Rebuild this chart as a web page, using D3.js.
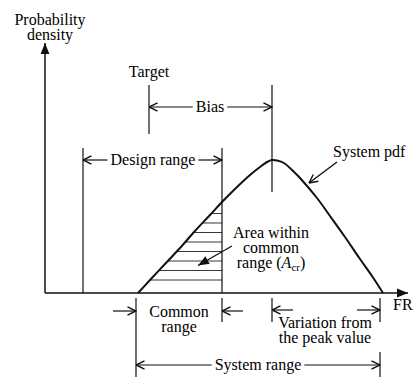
<!DOCTYPE html>
<html>
<head>
<meta charset="utf-8">
<script src="https://cdn.jsdelivr.net/npm/d3@7"></script>
<style>
  body { margin: 0; background: #fff; }
  text { font-family: "Liberation Serif", "Times New Roman", serif; font-size: 16px; fill: #000; }
</style>
</head>
<body>
<div class="canva"></div>
<script>
// system pdf (FR units, density units)
const pdfFR      = [93, 105, 120, 135, 150, 165, 177, 191, 205, 215, 222, 227, 232, 239, 247, 255, 272, 285, 300, 315, 327, 338];
const pdfDensity = [0, 13, 29, 45, 62, 78, 91, 105, 118, 126, 131, 133, 132.5, 130, 123, 115, 95, 77, 56, 34, 17, 0];

// hatch levels inside the common range
const hatchDensity = [13, 22.5, 32, 41.5, 51, 60.5, 70, 79.5];

// reference points along FR
const target = 104;
const peakFR = 227;
const designRange = [38, 177];
const systemRange = [91, 335];

const W = 413, H = 378;

const svg = d3.select('.canva').append('svg')
      .attr('width', W)
      .attr('height', H)

const x = d3.scaleLinear().domain([0, 363]).range([45, 408]);
const y = d3.scaleLinear().domain([0, 250]).range([293, 43]);

//arrow markers
const defs = svg.append('defs');
defs.append('marker')
    .attr('id', 'open')
    .attr('viewBox', '0 0 10 10')
    .attr('refX', 9.5).attr('refY', 5)
    .attr('markerWidth', 10).attr('markerHeight', 10)
    .attr('markerUnits', 'userSpaceOnUse')
    .attr('orient', 'auto-start-reverse')
  .append('path')
    .attr('d', 'M1,0.8 L9.5,5 L1,9.2')
    .attr('fill', 'none').attr('stroke', '#111').attr('stroke-width', 1.4);
defs.append('marker')
    .attr('id', 'solid')
    .attr('viewBox', '0 0 10 10')
    .attr('refX', 10).attr('refY', 5)
    .attr('markerWidth', 11).attr('markerHeight', 11)
    .attr('markerUnits', 'userSpaceOnUse')
    .attr('orient', 'auto')
  .append('path')
    .attr('d', 'M0,1 L10,5 L0,9 Z')
    .attr('fill', '#111');

const line = (x1, y1, x2, y2, w = 1.2) => svg.append('line')
    .attr('x1', x1).attr('y1', y1).attr('x2', x2).attr('y2', y2)
    .attr('stroke', '#111').attr('stroke-width', w);

const label = (px, py, txt, anchor = 'middle') => svg.append('text')
    .attr('x', px).attr('y', py).attr('text-anchor', anchor).text(txt);

//axes
line(x(0), y(0), x(0), y(250), 1.5).attr('marker-end', 'url(#solid)');
line(x(0), y(0), x(363), y(0), 1.5).attr('marker-end', 'url(#solid)');
label(50, 24.5, 'Probability');
label(50, 39.5, 'density');
label(393, 310, 'FR', 'start');

//hatching in the common range
const leftN = pdfDensity.indexOf(d3.max(pdfDensity)) + 1;
const leftBranch = d3.scaleLinear()
    .domain(pdfDensity.slice(0, leftN))
    .range(pdfFR.slice(0, leftN));
svg.append('g').selectAll('line')
    .data(hatchDensity)
    .enter().append('line')
    .attr('x1', d => x(leftBranch(d)))
    .attr('x2', x(designRange[1]))
    .attr('y1', d => y(d))
    .attr('y2', d => y(d))
    .attr('stroke', '#222')
    .attr('stroke-width', 0.9);

//pdf curve
const pts = pdfFR.map((f, i) => [x(f), y(pdfDensity[i])]);
svg.append('path')
    .attr('d', d3.line().curve(d3.curveCatmullRom)(pts))
    .attr('fill', 'none')
    .attr('stroke', '#111')
    .attr('stroke-width', 2);

//vertical reference lines
line(x(target), 85, x(target), 134);
line(x(peakFR), 85, x(peakFR), 192);
line(x(designRange[0]), 148, x(designRange[0]), y(0));
line(x(designRange[1]), 148, x(designRange[1]), y(0));

//dimension line with the label sitting in a gap
function dim(x1, x2, yy, txt, tx, ty) {
  const t = label(tx, ty, txt);
  const bb = t.node().getBBox();
  line(bb.x - 3, yy, x1, yy).attr('marker-end', 'url(#open)');
  line(bb.x + bb.width + 3, yy, x2, yy).attr('marker-end', 'url(#open)');
}

label(x(target), 77, 'Target');
dim(x(target), x(peakFR), 107, 'Bias', 210, 112);
dim(x(designRange[0]), x(designRange[1]), 160, 'Design range', 153, 164.5);

//system pdf pointer
label(333, 157, 'System pdf', 'start');
line(337, 162, 309, 183, 1.4).attr('marker-end', 'url(#open)');

//area pointer
label(271, 238, 'Area within');
label(271, 253, 'common');
const ar = label(271, 268, 'range (');
ar.append('tspan').attr('font-style', 'italic').text('A');
ar.append('tspan').attr('font-size', '11px').attr('dy', 3).text('cr');
ar.append('tspan').attr('dy', -3).text(')');
line(232, 246, 198, 265.5, 1.2).attr('marker-end', 'url(#solid)');

//below the axis
line(x(systemRange[0]), 298, x(systemRange[0]), 377);
line(x(designRange[1]), 298, x(designRange[1]), 322);
line(x(peakFR), 298, x(peakFR), 322);
line(x(systemRange[1]), 298, x(systemRange[1]), 322);
line(x(systemRange[1]), 352, x(systemRange[1]), 377);

line(113, 311, x(systemRange[0]), 311).attr('marker-end', 'url(#open)');
line(243, 311, x(designRange[1]), 311).attr('marker-end', 'url(#open)');
label(179, 317, 'Common');
label(179, 332, 'range');

line(293, 310, x(peakFR), 310).attr('marker-end', 'url(#open)');
line(357, 310, x(systemRange[1]), 310).attr('marker-end', 'url(#open)');
label(325, 328, 'Variation from');
label(325, 343, 'the peak value');

dim(x(systemRange[0]), x(systemRange[1]), 365, 'System range', 258, 370);
</script>
</body>
</html>
